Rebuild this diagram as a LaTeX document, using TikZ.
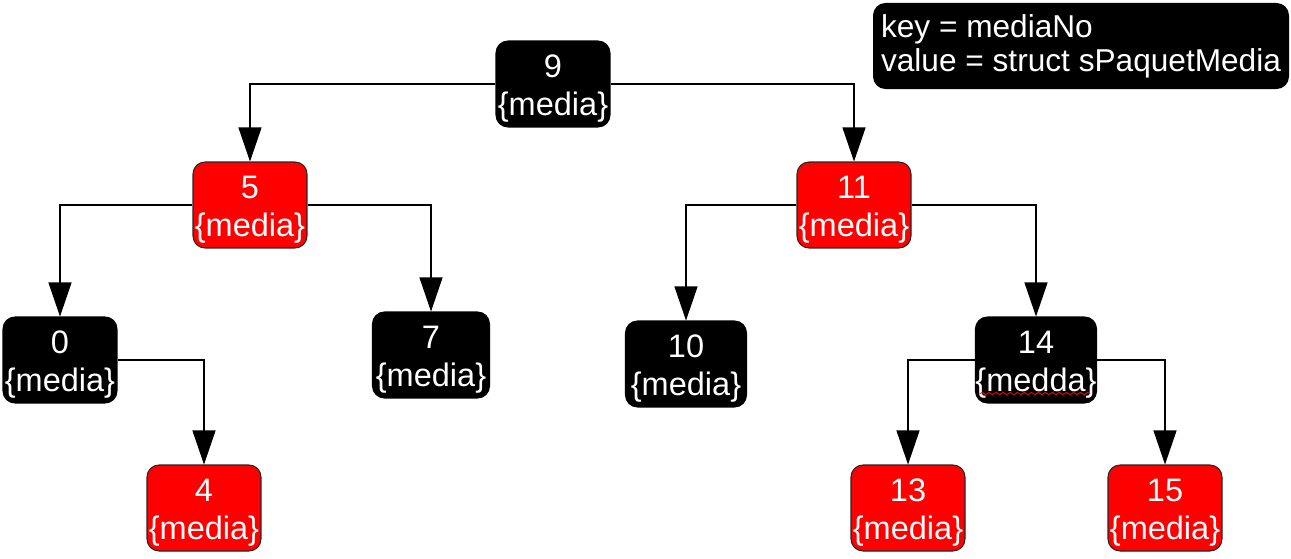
\documentclass[tikz,border=0pt]{standalone}
\usepackage{fontspec}
\setmainfont{Liberation Sans}
\usetikzlibrary{arrows.meta,decorations.pathmorphing}

\begin{document}
\begin{tikzpicture}[x=0.02cm, y=-0.02cm, font=\fontsize{18.5}{21.5}\selectfont,
  boite/.style={rounded corners=0.24cm, minimum width=2.28cm, minimum height=1.72cm, inner sep=0pt, align=center, text=white, line width=0.6pt},
  noire/.style={boite, draw=black, fill=black},
  rouge/.style={boite, draw=black!85, fill=red},
  fleche/.style={-{Triangle[length=0.68cm, width=0.46cm]}, line width=0.6pt}]
\useasboundingbox (0,0) rectangle (1291,558);
\node[noire] (n9) at (553,84) {\rule{0pt}{0.98em}9\\\{media\}};
\node[rouge] (n5) at (250,205) {\rule{0pt}{0.98em}5\\\{media\}};
\node[rouge] (n11) at (854,205) {\rule{0pt}{0.98em}11\\\{media\}};
\node[noire] (n0) at (60,360) {\rule{0pt}{0.98em}0\\\{media\}};
\node[noire, minimum width=2.34cm] (n7) at (431,355) {\rule{0pt}{0.98em}7\\\{media\}};
\node[noire, minimum width=2.42cm] (n10) at (686,364) {\rule{0pt}{0.98em}10\\\{media\}};
\node[noire] (n14) at (1036,360) {\rule{0pt}{0.98em}14\\\{medda\}};
\node[rouge] (n4) at (204,508) {\rule{0pt}{0.98em}4\\\{media\}};
\node[rouge] (n13) at (908,508) {\rule{0pt}{0.98em}13\\\{media\}};
\node[rouge] (n15) at (1165,508) {\rule{0pt}{0.98em}15\\\{media\}};
\node[noire, align=left, minimum width=8.3cm, minimum height=1.7cm, font=\fontsize{18}{19.5}\selectfont] (cle) at (1081,46) {key = mediaNo\\value = struct sPaquetMedia};
% souligne rouge sous medda
\draw[red, line width=0.5pt, decorate, decoration={snake, amplitude=0.6pt, segment length=4pt}] ([xshift=0.1cm, yshift=0.2cm]n14.south west) -- ([xshift=-0.14cm, yshift=0.2cm]n14.south east);
\draw[fleche] (n9.west) -| (n5.north); \draw[fleche] (n9.east) -| (n11.north);
\draw[fleche] (n5.west) -| (n0.north); \draw[fleche] (n5.east) -| (n7.north);
\draw[fleche] (n11.west) -| (n10.north); \draw[fleche] (n11.east) -| (n14.north);
\draw[fleche] (n0.east) -| (n4.north);
\draw[fleche] (n14.west) -| (n13.north); \draw[fleche] (n14.east) -| (n15.north);
\end{tikzpicture}
\end{document}
